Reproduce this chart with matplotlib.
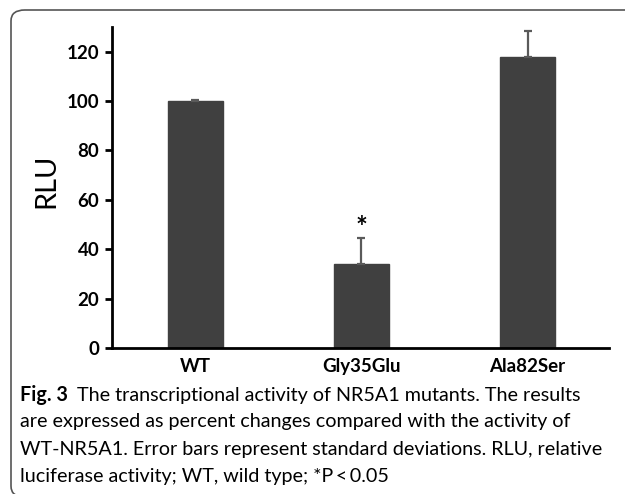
import matplotlib
matplotlib.use("Agg")
import matplotlib.pyplot as plt
from matplotlib.patches import FancyBboxPatch

categories = ["WT", "Gly35Glu", "Ala82Ser"]
values = [100, 34, 118]
errors = [0.5, 10.7, 10.5]
yticks = [0, 20, 40, 60, 80, 100, 120]

W, H = 625, 494
fig = plt.figure(figsize=(W / 100, H / 100), dpi=100)

# rounded border box
box = FancyBboxPatch((11 / W, 1 - 497 / H), (650 - 11) / W, (497 - 10) / H,
                     boxstyle="round,pad=0,rounding_size=0.022",
                     transform=fig.transFigure, fill=False,
                     edgecolor="#555555", linewidth=1.2, clip_on=False)
fig.patches.append(box)

ax_left, ax_right = 112, 609
ax_bottom, ax_top = 348, 27
ax = fig.add_axes([ax_left / W, 1 - ax_bottom / H, (ax_right - ax_left) / W, (ax_bottom - ax_top) / H])

x = list(range(len(categories)))
ax.bar(x, values, width=0.33, color="#404040", edgecolor="#404040", zorder=2)
ax.errorbar(x, values, yerr=[[0] * 3, errors], fmt="none", ecolor="#5a5a5a",
            elinewidth=1.6, capsize=3, capthick=1.6, zorder=3)
ax.text(1, values[1] + errors[1] - 1.5, "*", ha="center", va="bottom",
        fontsize=20, fontweight="bold", family="Lato")

ax.set_xlim(-0.5, 2.49)
ax.set_ylim(0, 130)
ax.set_yticks(yticks)
ax.set_xticks(x)
ax.set_xticklabels(categories, fontsize=13.5, fontweight="bold", family="Lato")
ax.set_yticklabels([str(t) for t in yticks], fontsize=13.5, fontweight="bold", family="Lato")
ax.tick_params(axis="x", length=0, pad=7)
ax.tick_params(axis="y", length=5, width=2, pad=4)
for s in ["top", "right"]:
    ax.spines[s].set_visible(False)
for s in ["left", "bottom"]:
    ax.spines[s].set_linewidth(2)
ax.set_ylabel("RLU", fontsize=21, family="Lato")
ax.yaxis.set_label_coords(-0.105, 0.52)

# caption
fs = 14.2
cap_x = 20 / W
lines_y = [395, 422, 449, 476]
fig.canvas.draw()
r = fig.canvas.get_renderer()
t1 = fig.text(cap_x, 1 - lines_y[0] / H, "Fig. 3", fontsize=fs, fontweight="bold",
              family="Lato", va="center", ha="left")
bb = t1.get_window_extent(renderer=r)
fig.text(bb.x1 / W + 9 / W, 1 - lines_y[0] / H,
         "The transcriptional activity of NR5A1 mutants. The results",
         fontsize=fs, family="Lato", va="center", ha="left")
rest = ["are expressed as percent changes compared with the activity of",
        "WT-NR5A1. Error bars represent standard deviations. RLU, relative",
        "luciferase activity; WT, wild type; *P\u2009<\u20090.05"]
for ln, yy in zip(rest, lines_y[1:]):
    fig.text(cap_x, 1 - yy / H, ln, fontsize=fs, family="Lato", va="center", ha="left")

fig.savefig("out.png", dpi=100)
